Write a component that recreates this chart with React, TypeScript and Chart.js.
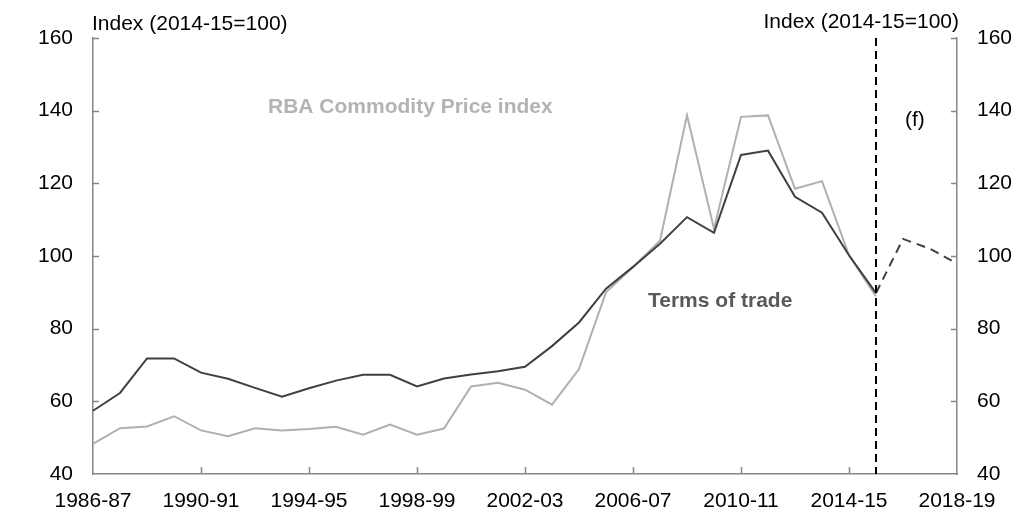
import React, { useEffect, useRef } from "react";
import { Chart, registerables } from "chart.js";

Chart.register(...registerables);

const categories = [
  "1986-87", "1987-88", "1988-89", "1989-90", "1990-91", "1991-92", "1992-93", "1993-94",
  "1994-95", "1995-96", "1996-97", "1997-98", "1998-99", "1999-00", "2000-01", "2001-02",
  "2002-03", "2003-04", "2004-05", "2005-06", "2006-07", "2007-08", "2008-09", "2009-10",
  "2010-11", "2011-12", "2012-13", "2013-14", "2014-15", "2015-16", "2016-17", "2017-18",
  "2018-19",
];

const termsOfTrade = [
  57.4, 62.3, 71.8, 71.8, 67.9, 66.2, 63.7, 61.3, 63.6, 65.7, 67.3, 67.3, 64.1, 66.3, 67.4, 68.3,
  69.5, 75.2, 81.7, 91.0, 97.0, 103.4, 110.7, 106.4, 127.8, 129.0, 116.3, 111.9, 100.2, 89.8,
  null, null, null,
];

const rbaIndex = [
  48.3, 52.6, 53.1, 55.9, 52.0, 50.4, 52.6, 52.0, 52.4, 53.0, 50.8, 53.6, 50.8, 52.5, 64.1, 65.1,
  63.2, 59.1, 68.9, 90.0, 97.0, 104.2, 138.7, 107.5, 138.3, 138.7, 118.5, 120.6, 100.2, 88.9,
  null, null, null,
];

const totForecast = [
  null, null, null, null, null, null, null, null, null, null, null, null, null, null, null, null,
  null, null, null, null, null, null, null, null, null, null, null, null, null, 89.8,
  104.7, 102.0, 97.9,
];

const yTicks = [40, 60, 80, 100, 120, 140, 160];
const forecastStart = "2015-16";

const FONT = "'Liberation Sans', Arial, sans-serif";
const AXIS = "#868686";

export default function App() {
  const ref = useRef<HTMLCanvasElement | null>(null);

  useEffect(() => {
    document.body.style.margin = "0";
    const canvas = ref.current;
    if (!canvas) return;

    const overlay = {
      id: "overlay",
      afterDraw(chart: any) {
        const ctx = chart.ctx as CanvasRenderingContext2D;
        const xs = chart.scales.x;
        const yl = chart.scales.y;
        const yr = chart.scales.y2;
        const area = chart.chartArea;
        ctx.save();
        // inside tick marks
        ctx.strokeStyle = AXIS;
        ctx.lineWidth = 1.5;
        ctx.beginPath();
        yTicks.forEach((v) => {
          if (v === 40) return;
          const py = Math.round(yl.getPixelForValue(v)) + 0.5;
          ctx.moveTo(area.left, py);
          ctx.lineTo(area.left + 6, py);
          const pr = Math.round(yr.getPixelForValue(v)) + 0.5;
          ctx.moveTo(area.right, pr);
          ctx.lineTo(area.right - 6, pr);
        });
        categories.forEach((c, i) => {
          if (i % 4 !== 0 || i === 0 || i === categories.length - 1) return;
          const px = Math.round(xs.getPixelForValue(i)) + 0.5;
          ctx.moveTo(px, area.bottom);
          ctx.lineTo(px, area.bottom - 7);
        });
        ctx.stroke();

        // forecast divider
        const fx = xs.getPixelForValue(categories.indexOf(forecastStart));
        ctx.strokeStyle = "#000000";
        ctx.lineWidth = 2;
        ctx.setLineDash([8, 5]);
        ctx.beginPath();
        ctx.moveTo(fx, area.top);
        ctx.lineTo(fx, area.bottom);
        ctx.stroke();
        ctx.setLineDash([]);

        // texts
        ctx.textBaseline = "middle";
        ctx.font = `21px ${FONT}`;
        ctx.fillStyle = "#000000";
        ctx.textAlign = "left";
        ctx.fillText("Index (2014-15=100)", 92, 24);
        ctx.textAlign = "right";
        ctx.fillText("Index (2014-15=100)", 959, 22);
        ctx.textAlign = "left";
        ctx.fillText("(f)", 905, 120);

        ctx.font = `bold 21px ${FONT}`;
        ctx.fillStyle = "#B3B3B3";
        ctx.fillText("RBA Commodity Price index", 268, 107);
        ctx.fillStyle = "#595959";
        ctx.fillText("Terms of trade", 648, 301);
        ctx.restore();
      },
    };

    const chart = new Chart(canvas, {
      type: "line",
      data: {
        labels: categories,
        datasets: [
          {
            label: "Terms of trade",
            data: termsOfTrade,
            borderColor: "#404040",
            borderWidth: 2,
            pointRadius: 0,
            tension: 0,
            yAxisID: "y",
          },
          {
            label: "Terms of trade (f)",
            data: totForecast,
            borderColor: "#404040",
            borderWidth: 2,
            borderDash: [9, 6],
            pointRadius: 0,
            tension: 0,
            yAxisID: "y",
          },
          {
            label: "RBA Commodity Price index",
            data: rbaIndex,
            borderColor: "#B0B0B0",
            borderWidth: 2,
            pointRadius: 0,
            tension: 0,
            yAxisID: "y",
          },
        ],
      },
      options: {
        responsive: false,
        animation: false,
        devicePixelRatio: 1,
        layout: { padding: { top: 38, left: 0, right: 0, bottom: 0 } },
        plugins: { legend: { display: false }, tooltip: { enabled: false } },
        scales: {
          x: {
            type: "category",
            offset: false,
            grid: { display: false, drawTicks: false },
            border: { display: true, color: AXIS, width: 1.5 },
            ticks: {
              autoSkip: false,
              maxRotation: 0,
              minRotation: 0,
              padding: 15,
              color: "#000000",
              font: { family: FONT, size: 21 },
              callback: (_v: any, i: number) => (i % 4 === 0 ? categories[i] : ""),
            },
            afterFit: (s: any) => {
              s.height = 39;
            },
          },
          y: {
            position: "left",
            min: 40,
            max: 160,
            grid: { display: false, drawTicks: false },
            border: { display: true, color: AXIS, width: 1.5 },
            ticks: {
              stepSize: 20,
              padding: 20,
              color: "#000000",
              font: { family: FONT, size: 21 },
            },
            afterFit: (s: any) => {
              s.width = 93;
            },
          },
          y2: {
            position: "right",
            min: 40,
            max: 160,
            grid: { display: false, drawTicks: false },
            border: { display: true, color: AXIS, width: 1.5 },
            ticks: {
              stepSize: 20,
              padding: 20,
              color: "#000000",
              font: { family: FONT, size: 21 },
            },
            afterFit: (s: any) => {
              s.width = 59;
            },
          },
        },
      },
      plugins: [overlay],
    } as any);

    return () => chart.destroy();
  }, []);

  return (
    <div style={{ width: 1016, height: 513 }}>
      <canvas ref={ref} width={1016} height={513} style={{ display: "block" }} />
    </div>
  );
}
